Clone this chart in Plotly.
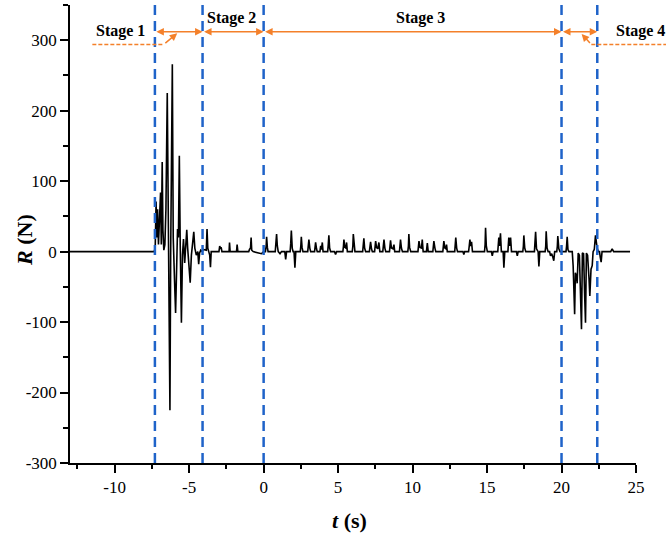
import plotly.graph_objects as go

# ---------------- data ----------------
t_pre = [-13.0, -7.35]
r_pre = [0, 0]

t_stage1 = [-7.28, -7.22, -7.17, -7.12, -7.06, -6.98, -6.92, -6.87, -6.81, -6.76, -6.70, -6.63,
            -6.56, -6.47, -6.40, -6.34, -6.29, -6.24, -6.19, -6.13, -6.07, -6.03, -5.98, -5.91,
            -5.85, -5.78, -5.72, -5.66, -5.60, -5.56, -5.52, -5.45, -5.38, -5.30, -5.22, -5.16,
            -5.10, -5.02, -4.93, -4.85, -4.77, -4.69, -4.62, -4.52, -4.42, -4.36, -4.30, -4.22,
            -4.12, -4.05]
r_stage1 = [5, 71, 20, 60, 10, 55, 84, 10, 127, 30, 2, 10,
            60, 225, -10, -100, -225, 0, 150, 266, 20, -42, -42, -87,
            -10, 32, 20, 136, 10, -40, -101, -5, 18, -16, 10, 31,
            5, -20, -44, -5, 15, 28, 5, -5, 0, -18, -2, 2,
            0, 3]

t_stage2 = [-3.85, -3.80, -3.75, -3.70, -3.62, -3.57, -3.52, -3.00, -2.95, -2.90, -2.85, -2.80,
            -2.32, -2.29, -2.25, -1.82, -1.78, -1.73, -1.00, -0.95, -0.88, -0.84, -0.80, -0.70,
            -0.30, -0.15, 0.00]
r_stage2 = [2, 32, 5, 0, -5, -22, 0, 0, 8, 5, 6, 0,
            0, 13, 0, 0, 10, 0, 0, 3, 5, 20, 2, 0,
            -2, -3, 0]

t_stage3 = [0.12, 0.17, 0.20, 0.25, 0.30, 0.78, 0.83, 0.87, 0.92, 0.98, 1.10, 1.20,
            1.42, 1.48, 1.54, 1.78, 1.82, 1.86, 1.92, 1.98, 2.04, 2.10, 2.16,
            2.46, 2.50, 2.53, 2.58, 2.64, 2.96, 3.00, 3.04, 3.10, 3.16,
            3.42, 3.49, 3.55, 3.60, 3.78, 3.83, 3.88, 3.94, 3.99,
            4.30, 4.34, 4.38, 4.43, 4.50, 4.76, 4.83, 4.90,
            5.32, 5.36, 5.39, 5.45, 5.52, 5.57, 5.62, 5.95, 5.99, 6.02, 6.07, 6.13,
            6.65, 6.69, 6.73, 6.78, 6.85, 7.10, 7.18, 7.24, 7.30,
            7.45, 7.52, 7.58, 7.66, 7.74, 7.80, 8.00, 8.04, 8.08, 8.14, 8.20,
            8.45, 8.52, 8.58, 8.68, 8.75, 8.80, 9.12, 9.19, 9.25, 9.32,
            9.68, 9.72, 9.75, 9.80, 9.88, 10.36, 10.43, 10.50, 10.60, 10.65, 10.71,
            10.93, 10.99, 11.05, 11.36, 11.43, 11.50, 11.56,
            12.03, 12.10, 12.17, 12.24, 12.28, 12.33, 12.83, 12.86, 12.90, 12.96, 13.02,
            13.38, 13.44, 13.50, 13.76, 13.80, 13.85, 13.90, 13.96, 14.02,
            14.83, 14.87, 14.90, 14.95, 15.02, 15.29, 15.35, 15.41,
            15.72, 15.79, 15.84, 15.90, 15.96, 16.08, 16.13, 16.19,
            16.40, 16.46, 16.52, 16.58, 16.64, 16.97, 17.03, 17.09,
            17.40, 17.44, 17.47, 17.53, 17.60, 18.18, 18.22, 18.26, 18.32, 18.38,
            18.43, 18.48, 18.54, 18.90, 18.94, 18.97, 19.03, 19.10,
            19.20, 19.26, 19.34, 19.42, 19.48, 19.54, 19.68, 19.72, 19.75, 19.82, 19.90]
r_stage3 = [0, 8, 21, 6, 0, 0, 10, 25, 8, 0, -3, 0,
            0, -11, 0, 0, 12, 30, 5, 0, 0, -23, 0,
            0, 9, 21, 6, 0, 0, 8, 17, 5, 0,
            0, 13, 4, 0, 0, 8, 3, 13, 0,
            0, 10, 23, 5, 0, 0, -4, 0,
            0, 8, 17, 6, 5, 13, 0, 0, 8, 25, 6, 0,
            0, 7, 19, 5, 0, 0, 14, 4, 0,
            0, 15, 6, 4, 13, 0, 0, 6, 17, 5, 0,
            0, 16, 5, 4, 10, 0, 0, 17, 5, 0,
            0, 8, 25, 6, 0, 0, 15, 6, 5, 17, 0,
            0, 12, 0, 0, 15, 5, 0,
            0, 15, 5, 4, 10, 0, 0, 8, 20, 5, 0,
            0, -4, 0, 0, 7, 17, 8, 14, 0,
            0, 10, 34, 8, 0, 0, -6, 0,
            0, 20, 8, 26, 0, 0, -23, 0,
            0, 20, 8, 20, 0, 0, -6, 0,
            0, 8, 23, 5, 0, 0, 10, 28, 4, 0,
            0, -21, 0, 0, 8, 29, 5, 0,
            0, -6, -3, -8, -13, 0, 0, 8, 22, 4, 0]

t_stage4 = [20.00, 20.30, 20.34, 20.38, 20.43, 20.50, 20.72, 20.78, 20.83, 20.88, 20.93, 21.00,
            21.05, 21.12, 21.20, 21.28, 21.34, 21.40, 21.48, 21.55, 21.61, 21.67, 21.75, 21.85,
            21.90, 21.98, 22.06, 22.12, 22.20, 22.28, 22.34, 22.39, 22.47, 22.55, 22.60, 22.66,
            22.72, 23.30, 23.40, 23.50, 24.60]
r_stage4 = [0, 0, 8, 21, 3, 0, 0, -20, -54, -89, -30, -35,
            -45, -2, -5, -60, -110, -2, -3, -60, -101, -2, -5, -40,
            -63, -25, -20, 0, 3, 23, 12, 5, 0, 0, -8, -15,
            0, 0, 4, 0, 0]

stage_bounds = [-7.3, -4.1, 0.0, 20.0, 22.4]
stage_names = ["Stage 1", "Stage 2", "Stage 3", "Stage 4"]

x_ticks = [-10, -5, 0, 5, 10, 15, 20, 25]
y_ticks = [-300, -200, -100, 0, 100, 200, 300]
X_RANGE = [-13, 25]
Y_RANGE = [-300, 350]

# ---------------- styles ----------------
ORANGE = "#F4802A"
BLUE = "#1F63C9"
FONT = "Liberation Serif"

t_all = t_pre + t_stage1 + t_stage2 + t_stage3 + t_stage4
r_all = r_pre + r_stage1 + r_stage2 + r_stage3 + r_stage4

fig = go.Figure()
fig.add_trace(go.Scatter(x=t_all, y=r_all, mode="lines",
                         line=dict(color="black", width=1.6), showlegend=False,
                         hoverinfo="skip"))

# stage boundaries
for b in stage_bounds:
    fig.add_shape(type="line", xref="x", yref="paper", x0=b, x1=b, y0=0, y1=1,
                  line=dict(color=BLUE, width=2.5, dash="10px,6px"), layer="above")

ARROW_Y = 312


def to_paper(t):
    return (t - X_RANGE[0]) / (X_RANGE[1] - X_RANGE[0])


# double-headed stage arrows
for a, b in zip(stage_bounds[:-1], stage_bounds[1:]):
    fig.add_annotation(x=b, y=ARROW_Y, ax=a, ay=ARROW_Y, xref="x", yref="y",
                       axref="x", ayref="y", text="", showarrow=True,
                       arrowside="end+start", arrowhead=2, arrowsize=1.0,
                       arrowwidth=1.5, arrowcolor=ORANGE, standoff=0, startstandoff=0)

# labels (paper x so that labels beyond the axis range still show)
label_pos = [(-9.6, 313), (-2.15, 331), (10.5, 331), (25.3, 313)]
for name, (lx, ly) in zip(stage_names, label_pos):
    fig.add_annotation(x=to_paper(lx), y=ly, xref="paper", yref="y", text="<b>" + name + "</b>",
                       xanchor="center", yanchor="middle",
                       showarrow=False, font=dict(family=FONT, size=16, color="black"))

# Stage 1 leader
LEAD_Y = 294
fig.add_shape(type="line", xref="x", yref="y", x0=-11.5, x1=-6.7, y0=LEAD_Y, y1=LEAD_Y,
              line=dict(color=ORANGE, width=1.5, dash="4px,2px"))
fig.add_annotation(x=-5.8, y=310, ax=-6.7, ay=LEAD_Y, xref="x", yref="y", axref="x", ayref="y",
                   text="", showarrow=True, arrowhead=2, arrowsize=1.0, arrowwidth=1.5,
                   arrowcolor=ORANGE, standoff=0)
# Stage 4 leader
fig.add_shape(type="line", xref="paper", yref="y", x0=to_paper(22.0), x1=to_paper(27.2),
              y0=LEAD_Y, y1=LEAD_Y, line=dict(color=ORANGE, width=1.5, dash="4px,2px"))
fig.add_annotation(x=21.35, y=309, ax=22.0, ay=LEAD_Y, xref="x", yref="y", axref="x", ayref="y",
                   text="", showarrow=True, arrowhead=2, arrowsize=1.0, arrowwidth=1.5,
                   arrowcolor=ORANGE, standoff=0)

# axis titles
fig.add_annotation(x=0.493, y=-0.1245, xref="paper", yref="paper", showarrow=False,
                   text="<b><i>t</i> (s)</b>", xanchor="center", yanchor="middle",
                   font=dict(family=FONT, size=22, color="black"))
fig.add_annotation(x=-0.0795, y=0.487, xref="paper", yref="paper", showarrow=False,
                   text="<b><i>R</i> (N)</b>", textangle=-90, xanchor="center", yanchor="middle",
                   font=dict(family=FONT, size=22, color="black"))

axis_common = dict(showgrid=False, zeroline=False, showline=True, linecolor="black",
                   linewidth=1.5, ticks="outside", ticklen=8, tickwidth=1.5, automargin=False,
                   tickcolor="black", tickfont=dict(family=FONT, size=17, color="black"))

fig.update_xaxes(range=X_RANGE, tickvals=x_ticks, ticktext=[str(v) for v in x_ticks],
                 minor=dict(tickvals=[-12.5, -7.5, -2.5, 2.5, 7.5, 12.5, 17.5, 22.5],
                            ticks="outside", ticklen=4, tickwidth=1.5, tickcolor="black"),
                 **axis_common)
fig.update_yaxes(range=Y_RANGE, tickvals=y_ticks, ticktext=[str(v) for v in y_ticks],
                 minor=dict(tickvals=[-250, -150, -50, 50, 150, 250, 350],
                            ticks="outside", ticklen=5, tickwidth=1.5, tickcolor="black"),
                 **axis_common)

fig.update_layout(width=666, height=535, margin=dict(l=70, r=30, t=5, b=72),
                  plot_bgcolor="white", paper_bgcolor="white", showlegend=False)

fig.write_html("out.html", config={"displayModeBar": False},
               post_script="document.body.style.margin='0px';")
